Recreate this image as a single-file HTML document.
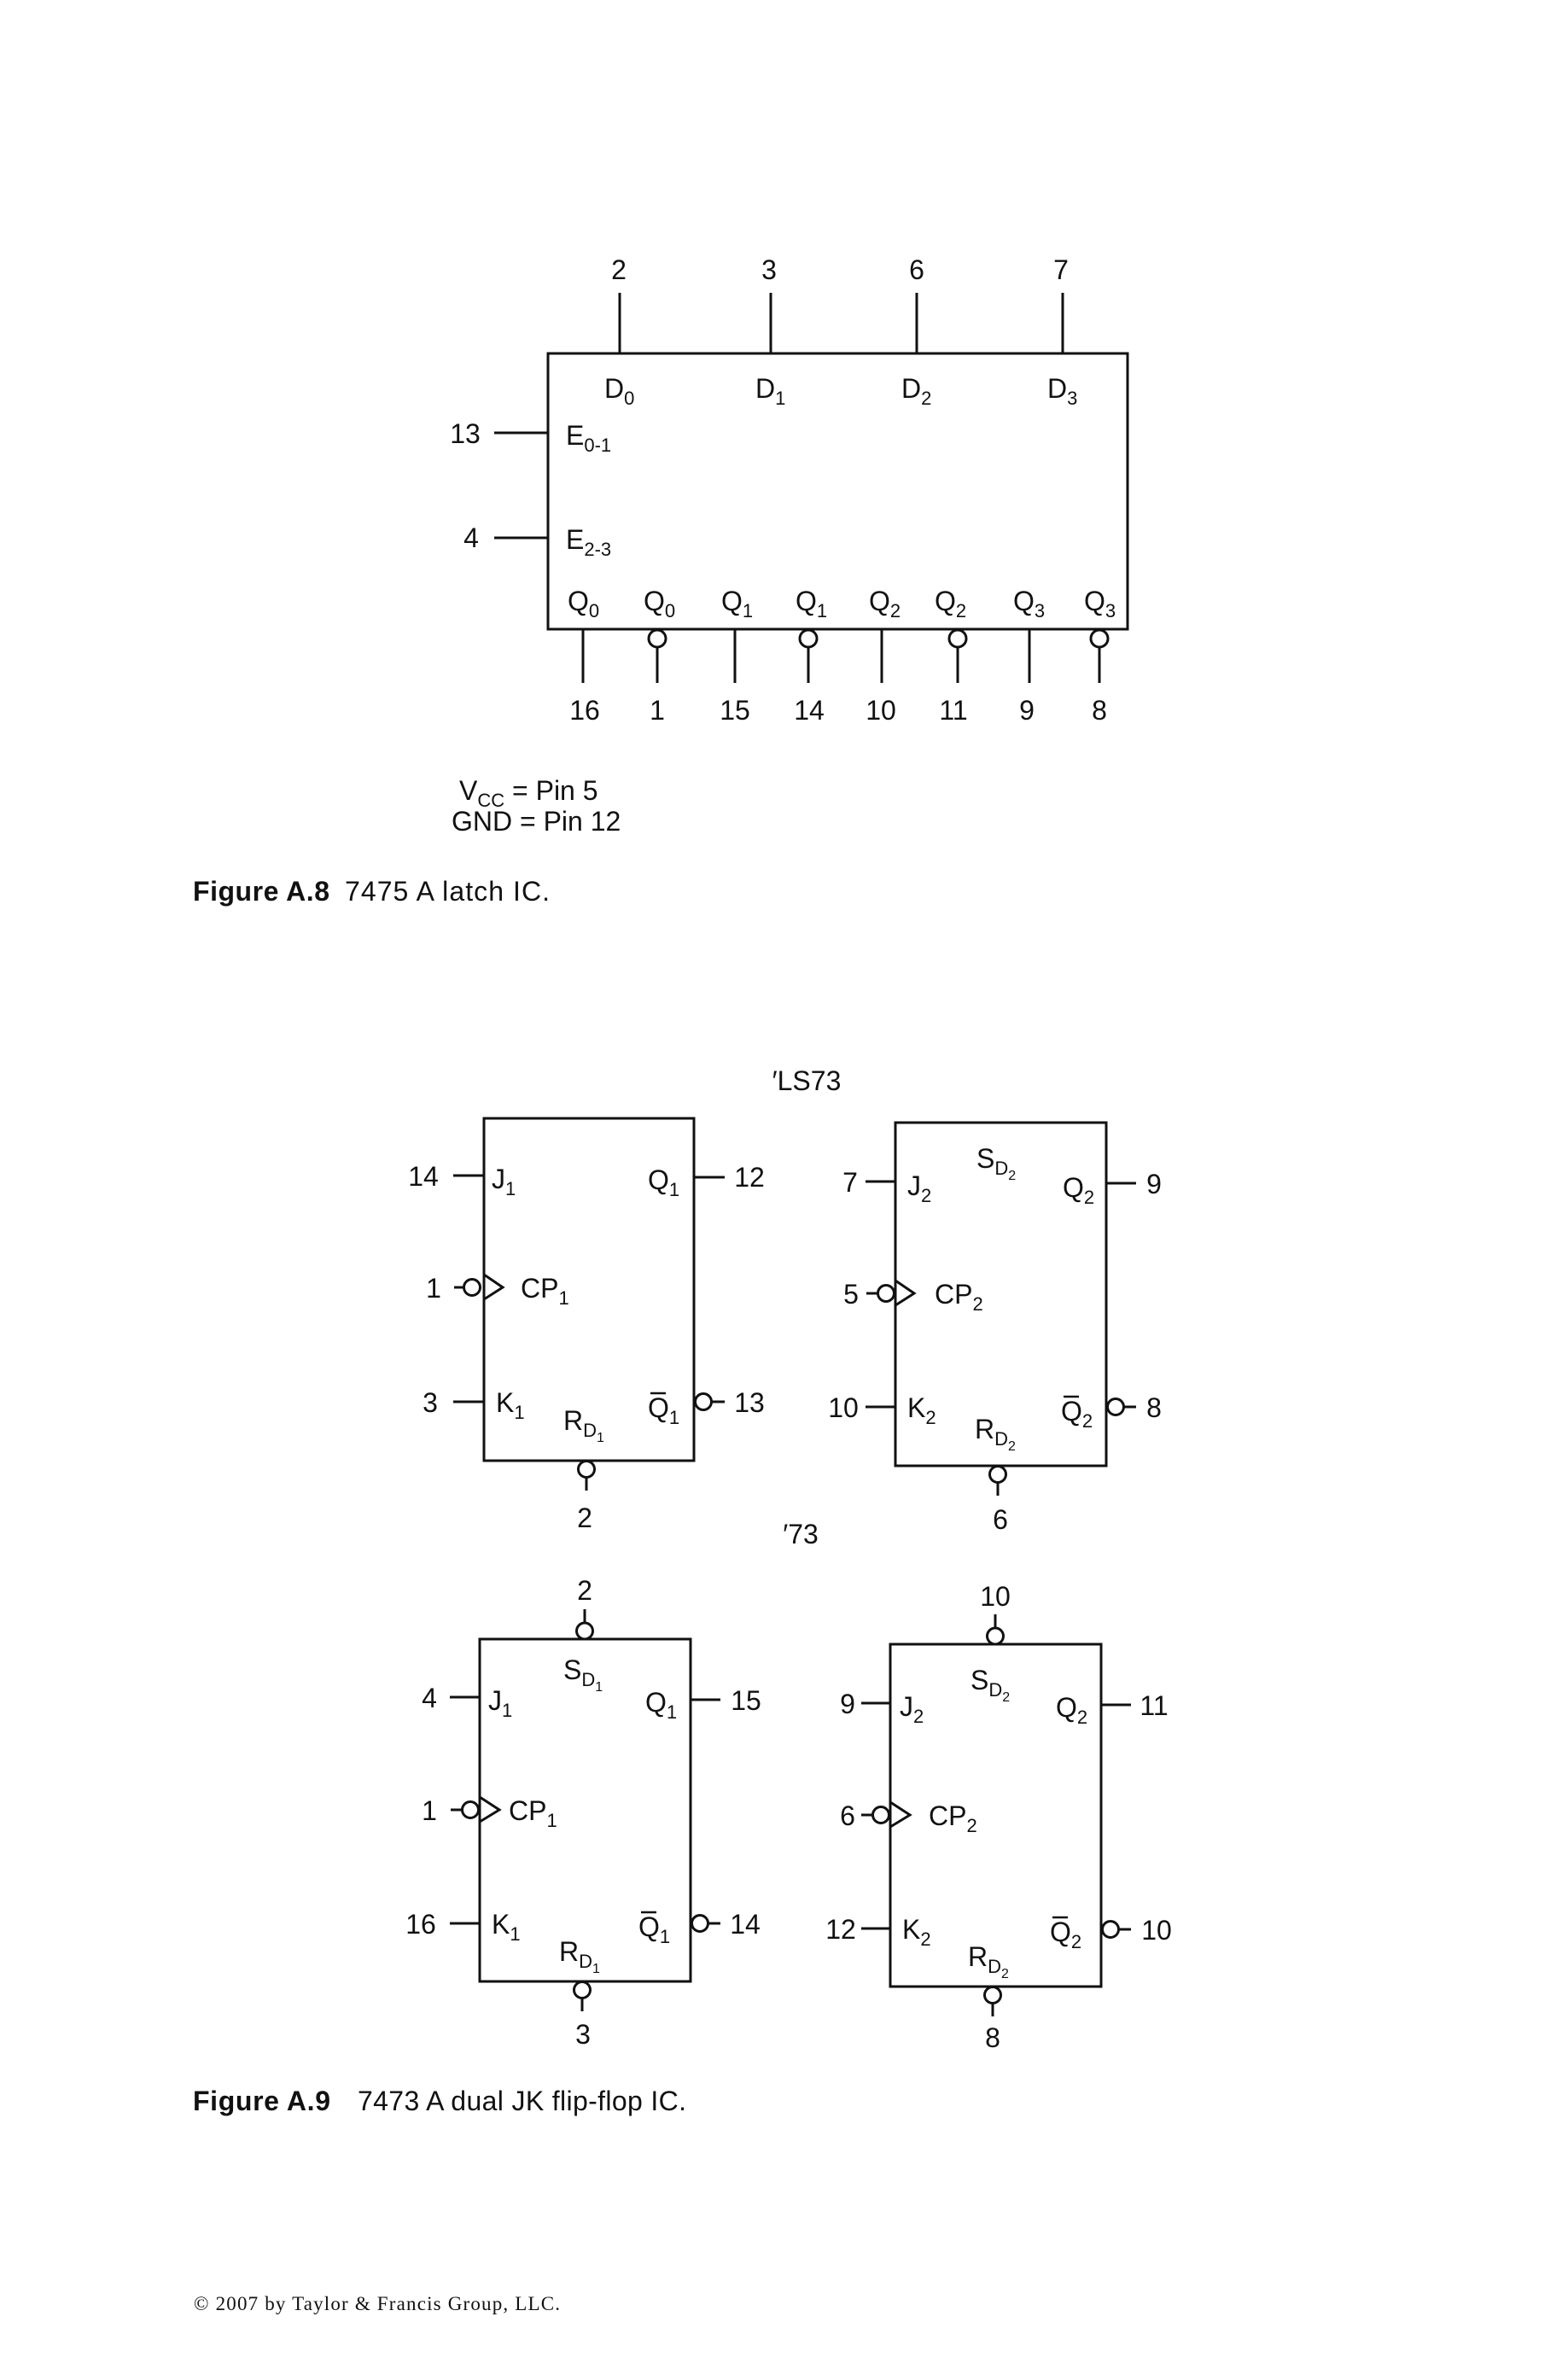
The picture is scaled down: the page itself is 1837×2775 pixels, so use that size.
<!DOCTYPE html>
<html><head><meta charset="utf-8"><style>
html,body{margin:0;padding:0;background:#fff;}
svg{display:block;}
text{font-family:"Liberation Sans",sans-serif;font-size:32px;fill:#111;}
.s{font-size:22px;}
.ss{font-size:16px;}
</style></head><body>
<svg width="1837" height="2775" viewBox="0 0 1837 2775" xmlns="http://www.w3.org/2000/svg">
<g stroke="#111" stroke-width="3" fill="none">
<!-- Latch -->
<rect x="642" y="414" width="679" height="323"/>
<line x1="726" y1="343" x2="726" y2="414"/>
<line x1="903" y1="343" x2="903" y2="414"/>
<line x1="1074" y1="343" x2="1074" y2="414"/>
<line x1="1245" y1="343" x2="1245" y2="414"/>
<line x1="579" y1="507" x2="642" y2="507"/>
<line x1="579" y1="630" x2="642" y2="630"/>
<line x1="683" y1="737" x2="683" y2="800"/>
<circle cx="770" cy="748" r="10"/><line x1="770" y1="758" x2="770" y2="800"/>
<line x1="861" y1="737" x2="861" y2="800"/>
<circle cx="947" cy="748" r="10"/><line x1="947" y1="758" x2="947" y2="800"/>
<line x1="1033" y1="737" x2="1033" y2="800"/>
<circle cx="1122" cy="748" r="10"/><line x1="1122" y1="758" x2="1122" y2="800"/>
<line x1="1206" y1="737" x2="1206" y2="800"/>
<circle cx="1288" cy="748" r="10"/><line x1="1288" y1="758" x2="1288" y2="800"/>

<!-- FF1 -->
<rect x="567" y="1310" width="246" height="401"/>
<line x1="531" y1="1377" x2="567" y2="1377"/>
<line x1="813" y1="1379" x2="849" y2="1379"/>
<line x1="532" y1="1508" x2="543" y2="1508"/><circle cx="553" cy="1508" r="9.5"/>
<polyline points="567,1493 589,1508 567,1522"/>
<line x1="531" y1="1642" x2="567" y2="1642"/>
<circle cx="824" cy="1642" r="9.5"/><line x1="834" y1="1642" x2="849" y2="1642"/>
<circle cx="687" cy="1721" r="9.5"/><line x1="687" y1="1731" x2="687" y2="1746"/>

<!-- FF2 -->
<rect x="1049" y="1315" width="247" height="402"/>
<line x1="1014" y1="1384" x2="1049" y2="1384"/>
<line x1="1296" y1="1386" x2="1331" y2="1386"/>
<line x1="1015" y1="1515" x2="1028" y2="1515"/><circle cx="1038" cy="1515" r="9.5"/>
<polyline points="1049,1500 1071,1515 1049,1529"/>
<line x1="1014" y1="1648" x2="1049" y2="1648"/>
<circle cx="1307" cy="1648" r="9.5"/><line x1="1317" y1="1648" x2="1331" y2="1648"/>
<circle cx="1169" cy="1727" r="9.5"/><line x1="1169" y1="1737" x2="1169" y2="1752"/>

<!-- FF3 -->
<rect x="562" y="1920" width="247" height="401"/>
<line x1="685" y1="1885" x2="685" y2="1901"/><circle cx="685" cy="1910.5" r="9.5"/>
<line x1="527" y1="1988" x2="562" y2="1988"/>
<line x1="809" y1="1991" x2="844" y2="1991"/>
<line x1="528" y1="2120" x2="541" y2="2120"/><circle cx="551" cy="2120" r="9.5"/>
<polyline points="562,2105 585,2120 562,2134"/>
<line x1="527" y1="2253" x2="562" y2="2253"/>
<circle cx="820" cy="2253" r="9.5"/><line x1="830" y1="2253" x2="844" y2="2253"/>
<circle cx="682" cy="2331" r="9.5"/><line x1="682" y1="2341" x2="682" y2="2356"/>

<!-- FF4 -->
<rect x="1043" y="1926" width="247" height="401"/>
<line x1="1166" y1="1891" x2="1166" y2="1907"/><circle cx="1166" cy="1916.5" r="9.5"/>
<line x1="1009" y1="1995" x2="1043" y2="1995"/>
<line x1="1290" y1="1997" x2="1325" y2="1997"/>
<line x1="1009" y1="2126" x2="1022" y2="2126"/><circle cx="1032" cy="2126" r="9.5"/>
<polyline points="1043,2111 1066,2126 1043,2140"/>
<line x1="1009" y1="2259" x2="1043" y2="2259"/>
<circle cx="1301" cy="2260" r="9.5"/><line x1="1311" y1="2260" x2="1325" y2="2260"/>
<circle cx="1163" cy="2337" r="9.5"/><line x1="1163" y1="2347" x2="1163" y2="2362"/>

<!-- overbars -->
<line x1="762" y1="1632" x2="780" y2="1632" stroke-width="2.5"/>
<line x1="1246" y1="1636" x2="1264" y2="1636" stroke-width="2.5"/>
<line x1="751" y1="2240" x2="769" y2="2240" stroke-width="2.5"/>
<line x1="1233" y1="2246" x2="1251" y2="2246" stroke-width="2.5"/>
</g>

<!-- Latch texts -->
<g text-anchor="middle">
<text x="725" y="327">2</text><text x="901" y="327">3</text><text x="1074" y="327">6</text><text x="1243" y="327">7</text>
<text x="545" y="519">13</text><text x="552" y="641">4</text>
<text x="685" y="843">16</text><text x="770" y="843">1</text><text x="861" y="843">15</text><text x="948" y="843">14</text>
<text x="1032" y="843">10</text><text x="1117" y="843">11</text><text x="1203" y="843">9</text><text x="1288" y="843">8</text>
</g>
<text x="708" y="466">D<tspan class="s" dy="8">0</tspan></text>
<text x="885" y="466">D<tspan class="s" dy="8">1</tspan></text>
<text x="1056" y="466">D<tspan class="s" dy="8">2</tspan></text>
<text x="1227" y="466">D<tspan class="s" dy="8">3</tspan></text>
<text x="663" y="521">E<tspan class="s" dy="8">0-1</tspan></text>
<text x="663" y="643">E<tspan class="s" dy="8">2-3</tspan></text>
<text x="665" y="715">Q<tspan class="s" dy="8">0</tspan></text>
<text x="754" y="715">Q<tspan class="s" dy="8">0</tspan></text>
<text x="845" y="715">Q<tspan class="s" dy="8">1</tspan></text>
<text x="932" y="715">Q<tspan class="s" dy="8">1</tspan></text>
<text x="1018" y="715">Q<tspan class="s" dy="8">2</tspan></text>
<text x="1095" y="715">Q<tspan class="s" dy="8">2</tspan></text>
<text x="1187" y="715">Q<tspan class="s" dy="8">3</tspan></text>
<text x="1270" y="715">Q<tspan class="s" dy="8">3</tspan></text>

<text x="538" y="937">V<tspan class="s" dy="8">CC</tspan><tspan dy="-8"> = Pin 5</tspan></text>
<text x="529" y="973">GND = Pin 12</text>
<text x="226" y="1055" font-weight="bold" font-size="31" textLength="160">Figure A.8</text>
<text x="404" y="1055" font-size="30" textLength="240">7475 A latch IC.</text>

<!-- FF labels -->
<g text-anchor="middle">
<text x="945" y="1277">′LS73</text>
<text x="496" y="1389">14</text><text x="878" y="1390">12</text><text x="508" y="1520">1</text><text x="504" y="1654">3</text><text x="878" y="1654">13</text><text x="685" y="1789">2</text>
<text x="996" y="1396">7</text><text x="1352" y="1398">9</text><text x="997" y="1527">5</text><text x="988" y="1660">10</text><text x="1352" y="1660">8</text><text x="1172" y="1791">6</text>
<text x="938" y="1808">′73</text>
<text x="685" y="1874">2</text><text x="503" y="2000">4</text><text x="874" y="2003">15</text><text x="503" y="2132">1</text><text x="493" y="2265">16</text><text x="873" y="2265">14</text><text x="683" y="2394">3</text>
<text x="1166" y="1881">10</text><text x="993" y="2007">9</text><text x="1352" y="2009">11</text><text x="993" y="2138">6</text><text x="985" y="2271">12</text><text x="1355" y="2272">10</text><text x="1163" y="2398">8</text>
</g>
<!-- FF1 -->
<text x="576" y="1392">J<tspan class="s" dy="8">1</tspan></text>
<text x="759" y="1393">Q<tspan class="s" dy="8">1</tspan></text>
<text x="610" y="1520">CP<tspan class="s" dy="8">1</tspan></text>
<text x="581" y="1654">K<tspan class="s" dy="8">1</tspan></text>
<text x="759" y="1660">Q<tspan class="s" dy="8">1</tspan></text>
<text x="660" y="1675">R<tspan class="s" dy="8">D</tspan><tspan class="ss" dy="6">1</tspan></text>
<!-- FF2 -->
<text x="1144" y="1368">S<tspan class="s" dy="8">D</tspan><tspan class="ss" dy="6">2</tspan></text>
<text x="1063" y="1400">J<tspan class="s" dy="8">2</tspan></text>
<text x="1245" y="1402">Q<tspan class="s" dy="8">2</tspan></text>
<text x="1095" y="1527">CP<tspan class="s" dy="8">2</tspan></text>
<text x="1063" y="1660">K<tspan class="s" dy="8">2</tspan></text>
<text x="1243" y="1664">Q<tspan class="s" dy="8">2</tspan></text>
<text x="1142" y="1685">R<tspan class="s" dy="8">D</tspan><tspan class="ss" dy="6">2</tspan></text>
<!-- FF3 -->
<text x="660" y="1967">S<tspan class="s" dy="8">D</tspan><tspan class="ss" dy="6">1</tspan></text>
<text x="572" y="2003">J<tspan class="s" dy="8">1</tspan></text>
<text x="756" y="2005">Q<tspan class="s" dy="8">1</tspan></text>
<text x="596" y="2132">CP<tspan class="s" dy="8">1</tspan></text>
<text x="576" y="2265">K<tspan class="s" dy="8">1</tspan></text>
<text x="748" y="2268">Q<tspan class="s" dy="8">1</tspan></text>
<text x="655" y="2297">R<tspan class="s" dy="8">D</tspan><tspan class="ss" dy="6">1</tspan></text>
<!-- FF4 -->
<text x="1137" y="1979">S<tspan class="s" dy="8">D</tspan><tspan class="ss" dy="6">2</tspan></text>
<text x="1054" y="2010">J<tspan class="s" dy="8">2</tspan></text>
<text x="1237" y="2011">Q<tspan class="s" dy="8">2</tspan></text>
<text x="1088" y="2138">CP<tspan class="s" dy="8">2</tspan></text>
<text x="1057" y="2271">K<tspan class="s" dy="8">2</tspan></text>
<text x="1230" y="2274">Q<tspan class="s" dy="8">2</tspan></text>
<text x="1134" y="2303">R<tspan class="s" dy="8">D</tspan><tspan class="ss" dy="6">2</tspan></text>

<text x="226" y="2472" font-weight="bold" font-size="31" textLength="161">Figure A.9</text>
<text x="419" y="2472" font-size="30" textLength="385">7473 A dual JK flip-flop IC.</text>
<text x="227" y="2706" style="font-family:'Liberation Serif',serif;font-size:23px" textLength="429">© 2007 by Taylor &amp; Francis Group, LLC.</text>
</svg>
</body></html>
